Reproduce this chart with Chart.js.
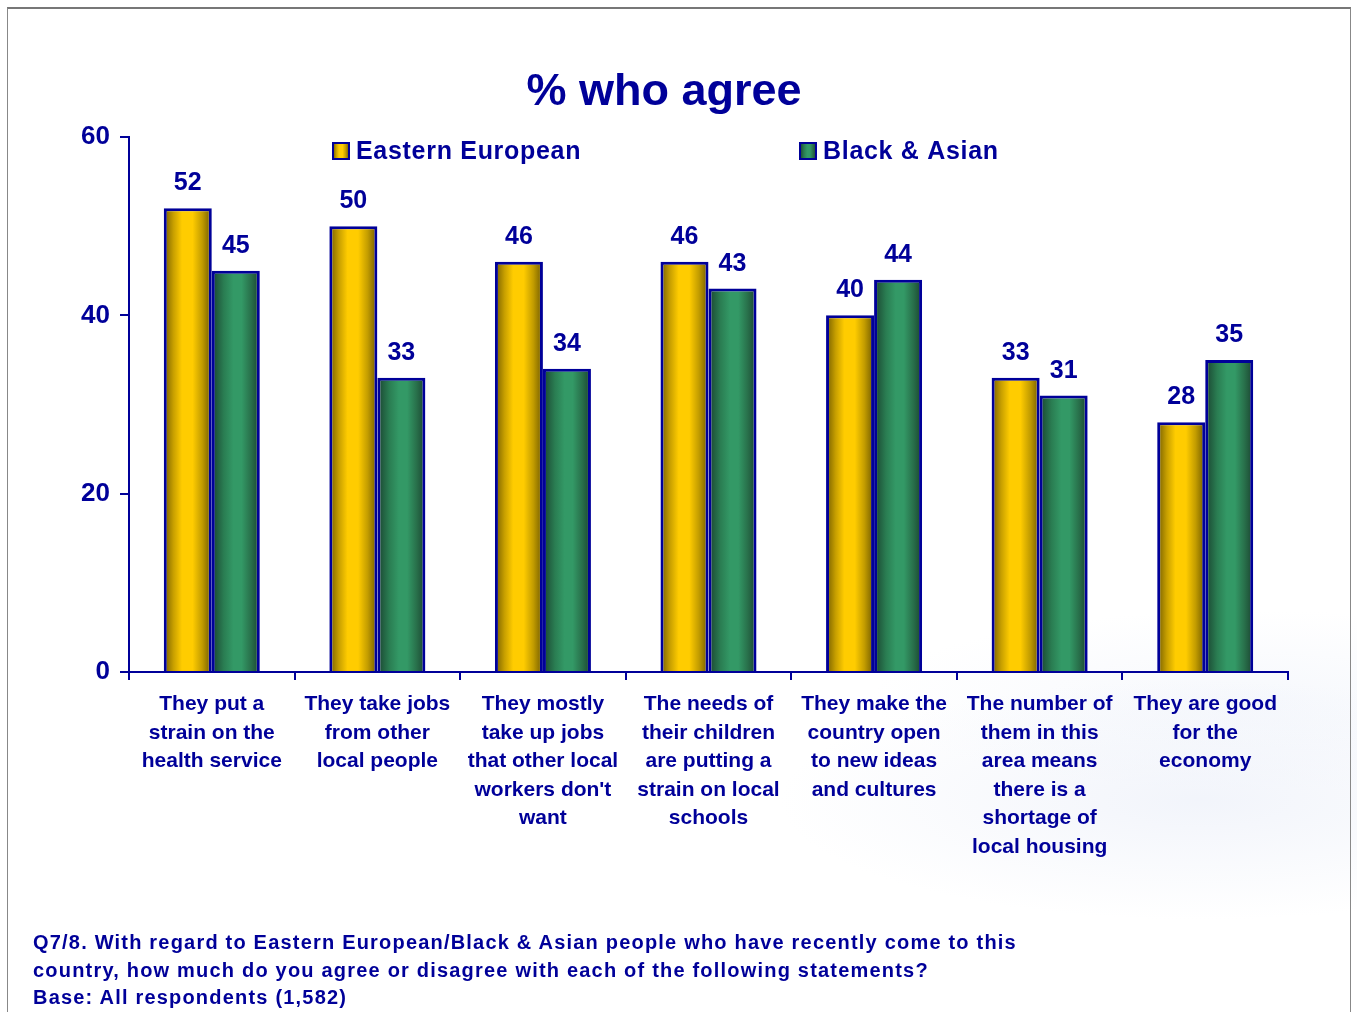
<!DOCTYPE html>
<html>
<head>
<meta charset="utf-8">
<script src="https://cdn.jsdelivr.net/npm/chart.js@4/dist/chart.umd.min.js"></script>
<style>
  body { margin: 0; background: #fff; font-family: "Liberation Sans", Arial, sans-serif; }
  .page { position: relative; width: 1357px; height: 1012px; overflow: hidden;
          background:
            radial-gradient(ellipse 420px 120px at 1200px 800px, rgba(226,232,246,0.45), rgba(255,255,255,0) 100%),
            radial-gradient(ellipse 380px 90px at 1250px 700px, rgba(230,236,248,0.35), rgba(255,255,255,0) 100%),
            #fff; }
  .frame { position: absolute; left: 7px; top: 7px; width: 1342px; height: 1010px;
           border-top: 2px solid #777; border-left: 1px solid #888; border-right: 1px solid #888; }
  canvas { position: absolute; left: 0; top: 0; }
  .note { position: absolute; left: 33px; top: 929px; color: #000099; font-weight: bold;
          font-size: 20px; line-height: 27.5px; letter-spacing: 1.2px; }
</style>
</head>
<body>
<div class="page">
  <div class="frame"></div>
  <canvas id="myChart" width="1357" height="1012"></canvas>
  <div class="note">Q7/8. With regard to Eastern European/Black &amp; Asian people who have recently come to this<br>country, how much do you agree or disagree with each of the following statements?<br>Base: All respondents (1,582)</div>
</div>
<script>
const categories = [
  ["They put a", "strain on the", "health service"],
  ["They take jobs", "from other", "local people"],
  ["They mostly", "take up jobs", "that other local", "workers don't", "want"],
  ["The needs of", "their children", "are putting a", "strain on local", "schools"],
  ["They make the", "country open", "to new ideas", "and cultures"],
  ["The number of", "them in this", "area means", "there is a", "shortage of", "local housing"],
  ["They are good", "for the", "economy"]
];
const easternEuropean = [52, 50, 46, 46, 40, 33, 28];
const blackAsian = [45, 33, 34, 43, 44, 31, 35];
const yTicks = [0, 20, 40, 60];

const navy = "#000099";
const catPct = 0.58;

// dark edge -> bright middle -> dark edge, like a cylinder
const yellowStops = [[0, "#735c00"], [0.2, "#c79f00"], [0.38, "#ffcc00"], [0.6, "#ffcc00"], [0.8, "#c29c00"], [1, "#6e5800"]];
const greenStops = [[0, "#1a4330"], [0.25, "#2a7d52"], [0.45, "#339966"], [0.62, "#339966"], [0.82, "#286f4a"], [1, "#1a4330"]];

const makeGradient = (c, left, width, stops) => {
  const g = c.createLinearGradient(left, 0, left + width, 0);
  stops.forEach(s => g.addColorStop(s[0], s[1]));
  return g;
};

const barFill = (stops) => (context) => {
  const chart = context.chart;
  const xs = chart.scales.x;
  if (!chart.chartArea || !xs || context.type !== "data") return stops[2][1];
  const cx = xs.getPixelForValue(context.dataIndex);
  const barW = (xs.width / categories.length) * catPct / 2;
  const left = cx - barW + context.datasetIndex * barW;
  return makeGradient(chart.ctx, left, barW, stops);
};

const valueLabels = {
  id: "valueLabels",
  afterDatasetsDraw(chart) {
    const c = chart.ctx;
    c.save();
    c.font = "bold 25px 'Liberation Sans', Arial, sans-serif";
    c.fillStyle = navy;
    c.textAlign = "center";
    c.textBaseline = "alphabetic";
    chart.data.datasets.forEach((ds, i) => {
      chart.getDatasetMeta(i).data.forEach((bar, j) => {
        c.fillText(ds.data[j], bar.x, bar.y - 18);
      });
    });
    c.restore();
  }
};

const legendBoxes = {
  id: "legendBoxes",
  afterDraw(chart) {
    const c = chart.ctx;
    const spots = [333, 800];
    const stops = [yellowStops, greenStops];
    c.save();
    c.font = "bold 25px 'Liberation Sans', Arial, sans-serif";
    c.letterSpacing = "0.7px";
    c.textBaseline = "middle";
    chart.data.datasets.forEach((ds, i) => {
      const x = spots[i];
      c.fillStyle = makeGradient(c, x, 16, stops[i]);
      c.fillRect(x, 143, 16, 16);
      c.strokeStyle = navy;
      c.lineWidth = 2;
      c.strokeRect(x, 143, 16, 16);
      c.fillStyle = navy;
      c.fillText(ds.label, x + 23, 152);
    });
    c.restore();
  }
};

const ctx = document.getElementById("myChart").getContext("2d");
const myChart = new Chart(ctx, {
  type: "bar",
  data: {
    labels: categories,
    datasets: [
      {
        label: "Eastern European",
        data: easternEuropean,
        backgroundColor: barFill(yellowStops),
        borderColor: navy,
        borderWidth: 3,
        borderSkipped: "bottom",
        categoryPercentage: catPct,
        barPercentage: 1
      },
      {
        label: "Black & Asian",
        data: blackAsian,
        backgroundColor: barFill(greenStops),
        borderColor: navy,
        borderWidth: 3,
        borderSkipped: "bottom",
        categoryPercentage: catPct,
        barPercentage: 1
      }
    ]
  },
  options: {
    responsive: false,
    animation: false,
    layout: { padding: { top: 44, left: 40, right: 69, bottom: 0 } },
    plugins: {
      legend: { display: false },
      tooltip: { enabled: false },
      title: {
        display: true,
        text: "% who agree",
        color: navy,
        font: { family: "'Liberation Sans', Arial, sans-serif", size: 45, weight: "bold" },
        padding: { top: 22, bottom: 17 }
      }
    },
    scales: {
      x: {
        afterFit: (s) => { s.height = 340; },
        grid: { offset: true, drawOnChartArea: false, tickLength: 8, color: navy, lineWidth: 2 },
        border: { color: navy, width: 2 },
        ticks: {
          color: navy,
          padding: 10,
          maxRotation: 0,
          autoSkip: false,
          font: { family: "'Liberation Sans', Arial, sans-serif", size: 21, weight: "bold", lineHeight: 1.36 }
        }
      },
      y: {
        min: 0,
        max: 60,
        afterFit: (s) => { s.width = 89; },
        afterBuildTicks: (s) => { s.ticks = yTicks.map(v => ({ value: v })); },
        grid: { drawOnChartArea: false, tickLength: 9, color: navy, lineWidth: 2 },
        border: { color: navy, width: 2 },
        ticks: {
          color: navy,
          padding: 10,
          font: { family: "'Liberation Sans', Arial, sans-serif", size: 26, weight: "bold" }
        }
      }
    }
  },
  plugins: [valueLabels, legendBoxes]
});
</script>
</body>
</html>
